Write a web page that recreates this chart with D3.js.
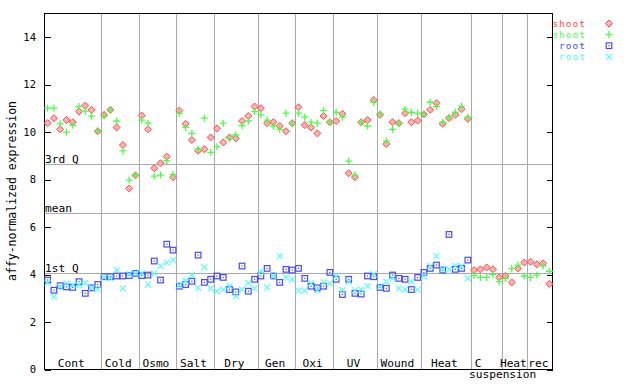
<!DOCTYPE html>
<html><head><meta charset="utf-8">
<script src="https://cdn.jsdelivr.net/npm/d3@7/dist/d3.min.js"></script>
<style>
html,body{margin:0;padding:0;background:#fff;}
svg{display:block;}
text{font-family:"DejaVu Sans Mono",monospace;}
</style></head>
<body>
<svg id="chart" width="640" height="384"></svg>
<script>
// ---- data ----
const groupNames = ["Cont","Cold","Osmo","Salt","Dry","Gen","Oxi","UV","Wound","Heat","C\nsuspension","Heat","rec"];
const groupSizes = [9,6,6,6,7,6,6,7,7,8,5,4,4];
const yTicks = [0,2,4,6,8,10,12,14];
const refLabels = ["3rd Q","mean","1st Q"];
const refValues = [8.67,6.61,4.08];
const seriesNames = ["shoot","shoot","root","root"];

const shoot1 = [10.38,10.59,10.12,10.51,10.42,10.87,11.12,10.94,10.04,
  10.73,10.94,10.20,9.46,7.63,8.18,
  10.70,10.12,8.48,8.69,8.97,8.10,
  10.91,10.35,9.67,9.22,9.28,9.78,
  10.16,9.57,9.78,9.74,10.47,10.68,11.08,
  11.01,10.38,10.42,10.26,10.04,10.38,
  11.05,10.30,10.20,9.95,10.68,10.42,
  10.47,10.77,8.27,8.10,10.42,10.51,11.36,
  10.73,9.50,10.42,10.38,10.80,10.42,10.49,
  10.75,10.94,11.22,10.35,10.59,10.73,10.97,10.56,
  4.19,4.22,4.30,4.22,3.88,
  3.94,3.67,4.26,4.51,
  4.54,4.43,4.47,3.61];
const shoot2 = [11.01,11.01,10.35,10.00,10.29,11.08,10.89,10.68,10.04,
  10.68,10.94,10.47,9.21,7.98,8.18,
  10.51,10.38,8.15,8.19,8.80,8.22,
  10.80,10.20,9.95,9.28,10.59,9.15,
  9.39,10.38,9.74,9.88,10.28,10.47,10.87,
  10.73,10.51,10.26,10.12,10.80,10.35,
  10.80,10.63,10.42,10.38,10.91,10.42,
  10.84,10.63,8.78,8.19,10.42,10.26,11.26,
  10.77,9.63,10.12,10.35,10.97,10.84,10.80,
  10.75,11.26,11.08,10.42,10.63,10.84,11.10,10.63,
  3.96,3.88,3.88,4.01,3.70,
  3.84,4.26,4.40,3.94,
  3.88,3.98,4.37,4.14];
const root1 = [3.77,3.34,3.53,3.48,3.46,3.70,3.21,3.44,3.58,
  3.91,3.91,3.94,3.94,3.96,4.05,
  3.96,3.98,4.57,3.77,5.28,5.03,
  3.51,3.58,3.72,4.82,3.67,3.80,
  3.94,3.88,3.37,3.27,4.36,3.30,3.80,
  3.94,4.26,3.94,3.67,4.22,4.19,
  4.26,3.84,3.51,3.44,3.51,4.09,
  3.80,3.16,3.80,3.21,3.18,3.94,3.91,
  3.46,3.42,3.98,3.84,3.80,3.37,3.88,
  4.09,4.26,4.40,4.19,5.69,4.22,4.26,4.61,
  null,null,null,null,null,null,null,null,null,null,null,null,null];
const root2 = [3.65,3.06,3.48,3.63,3.56,3.56,3.65,3.44,3.39,
  3.88,3.84,4.19,3.42,4.02,4.06,
  4.05,3.58,4.05,4.36,4.50,4.61,
  3.55,3.74,3.98,3.44,4.30,3.42,
  3.30,3.37,3.51,3.10,3.37,3.65,3.42,
  4.12,3.46,3.94,4.78,3.88,3.80,
  3.32,3.32,3.63,3.34,3.67,3.63,
  3.94,3.34,3.70,3.34,3.37,3.51,4.02,
  3.50,3.70,3.84,3.42,3.37,3.70,3.37,
  3.91,4.36,4.78,4.22,4.22,4.36,4.36,3.84,
  null,null,null,null,null,null,null,null,null,null,null,null,null];

// ---- layout ----
const svg = d3.select("#chart");
const nSamples = d3.sum(groupSizes);
const x = d3.scaleLinear().domain([0, nSamples]).range([44.5, 552.5]);
const y = d3.scaleLinear().domain([0, 15]).range([369.5, 13.5]);
const colors = ["#ff4848","#48ff48","#4848ff","#48ffff"];
const gray = "#aaaaaa";

// group boundaries
const bounds = [0];
groupSizes.forEach((s,i)=>bounds.push(bounds[i]+s));

// reference horizontal lines
svg.append("g").selectAll("line").data(refValues).join("line")
  .attr("x1", x(0)).attr("x2", x(nSamples))
  .attr("y1", d=>Math.round(y(d))+0.5).attr("y2", d=>Math.round(y(d))+0.5)
  .attr("stroke", gray).attr("shape-rendering","crispEdges");
svg.append("g").selectAll("text").data(refLabels).join("text")
  .attr("x", 45).attr("y", (d,i)=>Math.round(y(refValues[i]))-1.5)
  .attr("font-size", 11.2).attr("fill","#000").text(d=>d);

// vertical group separators
svg.append("g").selectAll("line").data(bounds.slice(1,-1)).join("line")
  .attr("x1", d=>Math.round(x(d))+0.5).attr("x2", d=>Math.round(x(d))+0.5)
  .attr("y1", y(15)).attr("y2", y(0))
  .attr("stroke", gray).attr("shape-rendering","crispEdges");

// frame
svg.append("rect").attr("x", x(0)).attr("y", y(15))
  .attr("width", x(nSamples)-x(0)).attr("height", y(0)-y(15))
  .attr("fill","none").attr("stroke","#000").attr("shape-rendering","crispEdges");

// y axis left (ticks inward) and right (ticks inward)
const yl = svg.append("g").attr("transform", `translate(${x(0)},0)`)
  .call(d3.axisRight(y).tickValues(yTicks).tickSize(6).tickFormat(""));
yl.select(".domain").remove();
yl.selectAll("line").attr("shape-rendering","crispEdges");
const yr = svg.append("g").attr("transform", `translate(${x(nSamples)},0)`)
  .call(d3.axisLeft(y).tickValues(yTicks).tickSize(6).tickFormat(""));
yr.select(".domain").remove();
yr.selectAll("line").attr("shape-rendering","crispEdges");
svg.append("g").selectAll("text").data(yTicks).join("text")
  .attr("x", 36).attr("y", d=>y(d)).attr("dy","0.35em")
  .attr("text-anchor","end").attr("font-size", 10.5).text(d=>d);

// y axis title
svg.append("text").attr("transform","translate(16,191) rotate(-90)")
  .attr("text-anchor","middle").attr("font-size", 11.5)
  .text("affy-normalized expression");

// group labels
groupNames.forEach((name,i)=>{
  const cx = x((bounds[i]+bounds[i+1])/2);
  const lines = name.split("\n");
  lines.forEach((ln,j)=>{
    const dx = lines.length>1 ? (j===0 ? -8.5 : 16) : -1.5;
    svg.append("text").attr("x", cx+dx).attr("y", 366.5 + j*11.5)
      .attr("text-anchor","middle").attr("font-size", 11.2).text(ln);
  });
});

// markers
const s = 3.5;
const markerFns = [
  (g,c)=>{ g.append("path").attr("d",`M0,${-s}L${s},0L0,${s}L${-s},0Z`).attr("fill","#ffb3b3").attr("stroke",c).attr("stroke-width",1); },
  (g,c)=>{ g.append("path").attr("d",`M${-s},0H${s}M0,${-s}V${s}`).attr("stroke",c).attr("stroke-width",1.3).attr("fill","none"); },
  (g,c)=>{ g.append("rect").attr("x",-2.8).attr("y",-2.8).attr("width",5.6).attr("height",5.6).attr("fill","none").attr("stroke",c).attr("stroke-width",1.2);
           g.append("rect").attr("x",-0.6).attr("y",-0.6).attr("width",1.2).attr("height",1.2).attr("fill",c); },
  (g,c)=>{ g.append("path").attr("d",`M${-3},${-3}L${3},${3}M${-3},${3}L${3},${-3}`).attr("stroke",c).attr("stroke-width",1.1).attr("fill","none"); }
];
const allSeries = [shoot1, shoot2, root1, root2];
allSeries.forEach((vals,k)=>{
  const g = svg.append("g");
  vals.forEach((v,i)=>{
    if (v===null) return;
    const m = g.append("g").attr("transform",`translate(${x(i+0.5)},${y(v)})`);
    markerFns[k](m, colors[k]);
  });
});

// legend
seriesNames.forEach((name,k)=>{
  const ly = 23.5 + k*11.1;
  svg.append("text").attr("x", 586).attr("y", ly).attr("dy","0.35em")
    .attr("text-anchor","end").attr("font-size", 9.5).attr("letter-spacing","1px")
    .attr("fill", colors[k]).text(name);
  const m = svg.append("g").attr("transform",`translate(609,${ly})`);
  markerFns[k](m, colors[k]);
});
</script>
</body></html>
